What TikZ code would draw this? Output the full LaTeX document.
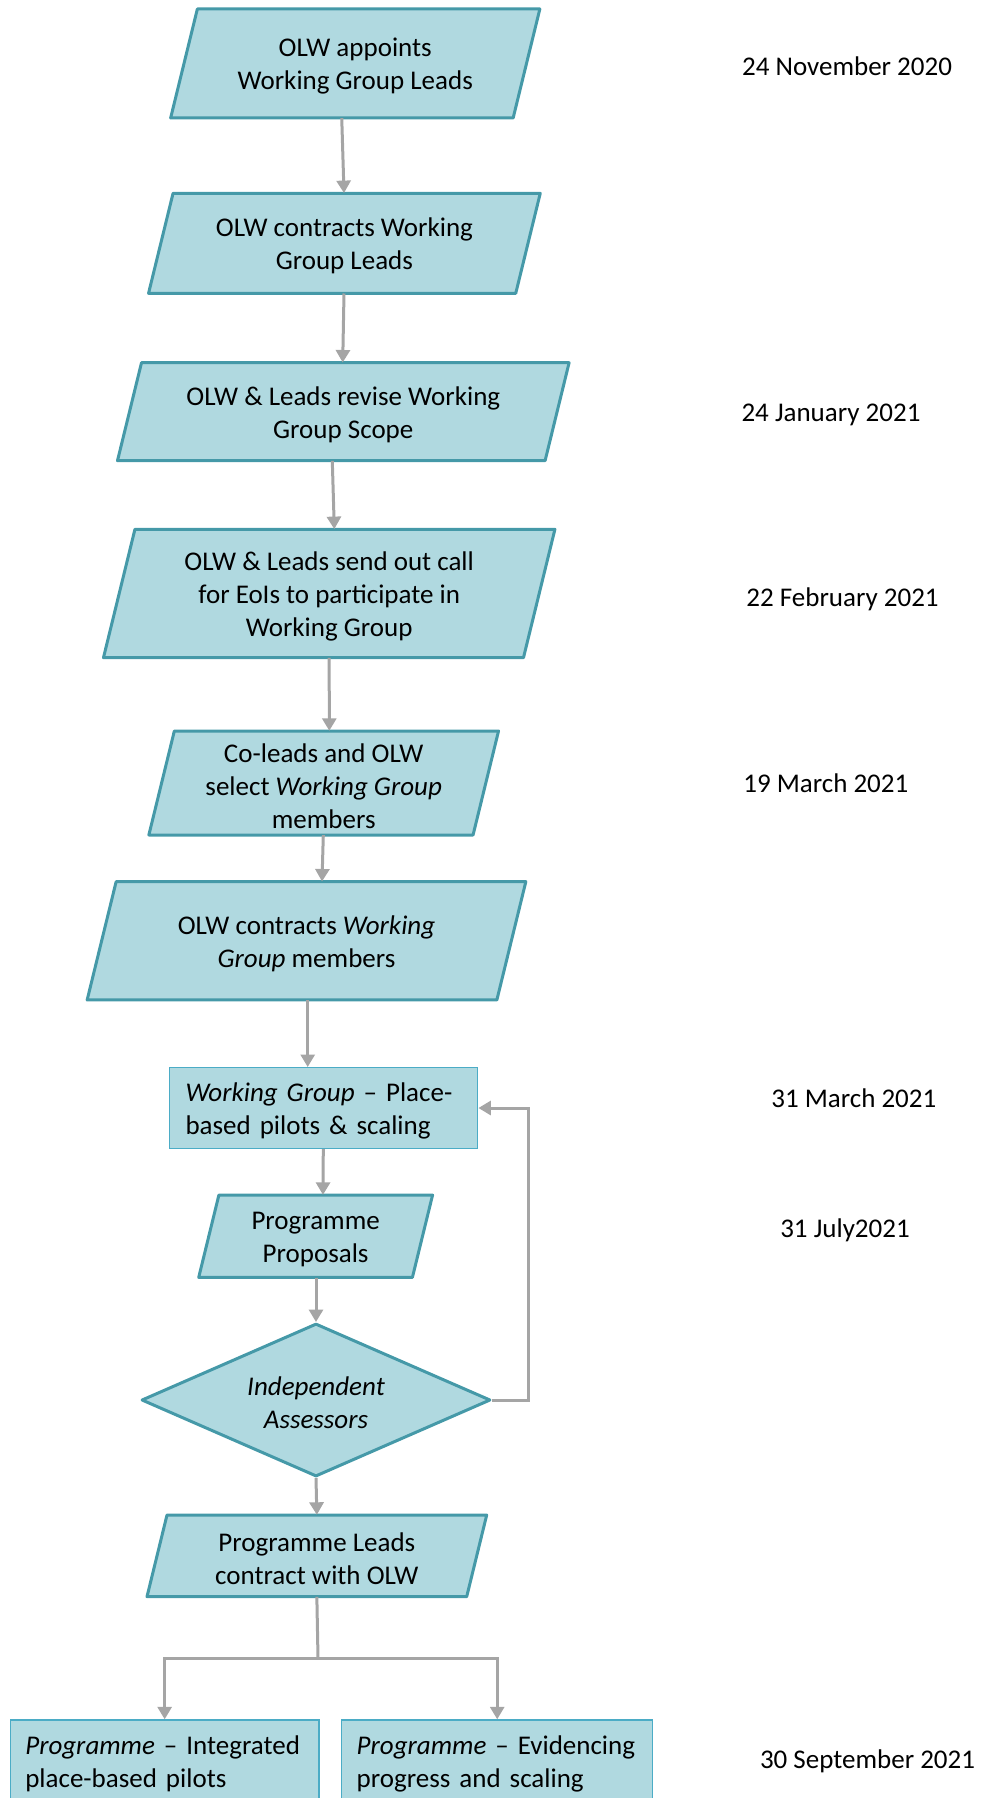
\documentclass[tikz,border=0pt]{standalone}
\usepackage{fontspec}
\setmainfont{Carlito}
\usetikzlibrary{arrows.meta,shapes.geometric,calc}
\definecolor{boxfill}{HTML}{B0D9E0}
\definecolor{boxline}{HTML}{4599A8}
\definecolor{rectline}{HTML}{4BACC6}
\definecolor{arrowgray}{HTML}{A5A5A5}
% name, centre x, centre y, side width, height, text
\newcommand\plgram[6]{%
  \pgfmathsetmacro\plgoff{0.245*#5}%
  \draw[plg] (#2-#4/2+\plgoff/2, #3-#5/2) -- (#2+#4/2+\plgoff/2, #3-#5/2)
     -- (#2+#4/2-\plgoff/2, #3+#5/2) -- (#2-#4/2-\plgoff/2, #3+#5/2) -- cycle;
  \node[ptext, minimum width=#4, minimum height=#5] (#1) at (#2,#3) {};
  \node[ptext] (#1t) at (#2,#3+3) {#6};
}
\begin{document}
\begin{tikzpicture}[x=1pt,y=-1pt,
  every node/.style={font={\fontsize{27}{33}\selectfont}, text=black},
  plg/.style={draw=boxline, fill=boxfill, line width=3pt, line join=round},
  ptext/.style={inner sep=0pt, align=center},
  rbox/.style={draw=rectline, fill=boxfill, line width=1.4pt, inner sep=0pt},
  ltext/.style={inner sep=0pt, align=left},
  dbox/.style={diamond, draw=boxline, fill=boxfill, line width=3pt, inner sep=0pt, line join=round},
  conn/.style={draw=arrowgray, line width=3pt},
  arr/.style={conn, -{Triangle[width=14pt,length=12.5pt]}},
  datelbl/.style={anchor=center}
]
\useasboundingbox (0,0) rectangle (980,1798);
\clip (0,0) rectangle (980,1798);

\plgram{b1}{355.25}{63.5}{342.5}{109}{OLW appoints\\Working Group Leads}
\plgram{b2}{344.4}{243.3}{367.2}{100}{OLW contracts Working\\Group Leads}
\plgram{b3}{343.3}{411.7}{427.6}{98}{OLW \& Leads revise Working\\Group Scope}
\plgram{b4}{329.2}{593.5}{420}{128.4}{OLW \& Leads send out call\\for EoIs to participate in\\Working Group}
\plgram{b5}{323.7}{783}{324.2}{104}{Co-leads and OLW\\select \textit{Working Group}\\members}
\plgram{b6}{306.5}{940.8}{409.7}{118.3}{OLW contracts \textit{Working}\\\textit{Group} members}

\node[rbox, minimum width=308.4, minimum height=80.6] (b7) at (323.5,1108) {};
\node[ltext, text width=276] (b7t) at (323.5,1111)
  {\textit{Working Group} – Place-\\based pilots \& scaling};

\plgram{b8}{315.65}{1236.2}{213.7}{82.3}{Programme\\Proposals}

\node[dbox, minimum width=349, minimum height=153, aspect=2.28] (d) at (316,1400) {};
\node[ptext] (dt) at (316,1403) {\textit{Independent}\\\textit{Assessors}};

\plgram{b10}{316.85}{1555.85}{319.7}{81.7}{Programme Leads\\contract with OLW}

\node[rbox, minimum width=308.7, minimum height=82] (p1) at (164.65,1761) {};
\node[ltext, text width=278.7] (p1t) at (164.65,1764)
  {\textit{Programme} – Integrated\\place-based pilots};
\node[rbox, minimum width=311, minimum height=82] (p2) at (497.2,1761) {};
\node[ltext, text width=281] (p2t) at (497.2,1764)
  {\textit{Programme} – Evidencing\\progress and scaling};

% dates
\node[datelbl] (t1) at (847,66.7) {24 November 2020};
\node[datelbl] (t2) at (831,415) {24 January 2021};
\node[datelbl] (t3) at (842.5,599.3) {22 February 2021};
\node[datelbl] (t4) at (825.8,783.3) {19 March 2021};
\node[datelbl] (t5) at (853.8,1098.3) {31 March 2021};
\node[datelbl] (t6) at (845,1230) {31 July2021};
\node[datelbl] (t7) at (867.5,1761.7) {30 September 2021};

% connectors
\draw[arr] ([xshift=-13.5pt]b1.south) -- ([xshift=-0.4pt]b2.north);
\draw[arr] ([xshift=-0.4pt]b2.south) -- ([xshift=-0.6pt]b3.north);
\draw[arr] ([xshift=-11pt]b3.south) -- ([xshift=5.1pt]b4.north);
\draw[arr] ([xshift=0pt]b4.south) -- ([xshift=5.6pt]b5.north);
\draw[arr] ([xshift=-0.4pt]b5.south) -- ([xshift=15.5pt]b6.north);
\draw[arr] ([xshift=1.2pt]b6.south) -- ([xshift=-15.8pt]b7.north);
\draw[arr] ([xshift=-0.2pt]b7.south) -- ([xshift=7.3pt]b8.north);
\draw[arr] ([xshift=0.35pt]b8.south) -- (d.north);
\draw[arr] (d.south) -- (b10.north);
\coordinate (fb) at ($(d.east)+(36.5,0)$);
\draw[arr] (d.east) -- (fb) |- (b7.east);
\coordinate (split) at (318,1658.3);
\draw[conn] (b10.south) -- (split);
\draw[arr] (split) -| (p1.north);
\draw[arr] (split) -| (p2.north);
\end{tikzpicture}
\end{document}
